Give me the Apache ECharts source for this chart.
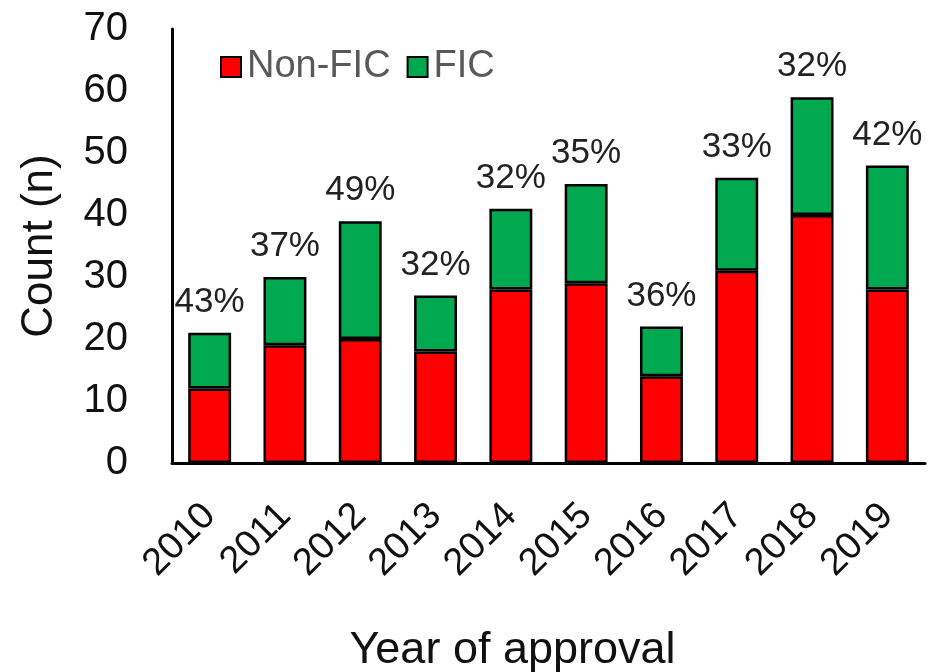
<!DOCTYPE html>
<html>
<head>
<meta charset="utf-8">
<script src="https://cdn.jsdelivr.net/npm/echarts@6/dist/echarts.min.js"></script>
<style>
  html, body { margin: 0; padding: 0; background: #fff; }
  #chart { width: 938px; height: 672px; }
</style>
</head>
<body>
<div id="chart"></div>
<script>
// values
const years = ['2010', '2011', '2012', '2013', '2014', '2015', '2016', '2017', '2018', '2019'];
const nonFic = [12, 19, 20, 18, 28, 29, 14, 31, 40, 28];
const fic = [9, 11, 19, 9, 13, 16, 8, 15, 19, 20];
const pctLabels = ['43%', '37%', '49%', '32%', '32%', '35%', '36%', '33%', '32%', '42%'];
const yTicks = [0, 10, 20, 30, 40, 50, 60, 70];

const font = 'Liberation Sans, Arial, sans-serif';
const chart = echarts.init(document.getElementById('chart'));

const option = {
  backgroundColor: '#fff',
  textStyle: { fontFamily: font },
  animation: false,
  grid: { left: 172, right: 13, top: 29, bottom: 209, outerBoundsMode: 'none' },
  legend: {
    left: 215, top: 43,
    itemWidth: 20, itemHeight: 20, itemGap: 16,
    icon: 'rect',
    textStyle: { fontSize: 38, color: '#595959', fontFamily: font, padding: [0, 0, 0, 1] },
    data: ['Non-FIC', 'FIC']
  },
  xAxis: {
    type: 'category',
    data: years,
    name: 'Year of approval',
    nameLocation: 'middle',
    nameGap: 165,
    nameTextStyle: { fontSize: 45, color: '#111', fontFamily: font, padding: [0, 72, 0, 0] },
    axisLine: { lineStyle: { color: '#000', width: 3 } },
    axisTick: { show: false },
    axisLabel: { rotate: 45, fontSize: 38, color: '#111', margin: 47, fontFamily: font }
  },
  yAxis: {
    type: 'value',
    min: yTicks[0], max: yTicks[yTicks.length - 1], interval: 10,
    name: 'Count (n)',
    nameLocation: 'middle',
    nameGap: 110,
    nameTextStyle: { fontSize: 44, color: '#111', fontFamily: font },
    axisLine: { show: true, lineStyle: { color: '#000', width: 3 } },
    axisTick: { show: false },
    splitLine: { show: false },
    axisLabel: { fontSize: 40, color: '#111', margin: 44, fontFamily: font }
  },
  series: [
    {
      name: 'Non-FIC', type: 'bar', stack: 'n', barWidth: '57%',
      data: nonFic,
      itemStyle: { color: '#ff0000', borderColor: '#000', borderWidth: 2.5 }
    },
    {
      name: 'FIC', type: 'bar', stack: 'n', barWidth: '57%',
      data: fic,
      itemStyle: { color: '#00a84f', borderColor: '#000', borderWidth: 2.5 },
      label: {
        show: true, position: 'top', distance: 13,
        fontSize: 35, color: '#222', fontFamily: font,
        formatter: p => pctLabels[p.dataIndex]
      }
    }
  ]
};
chart.setOption(option);
</script>
</body>
</html>
